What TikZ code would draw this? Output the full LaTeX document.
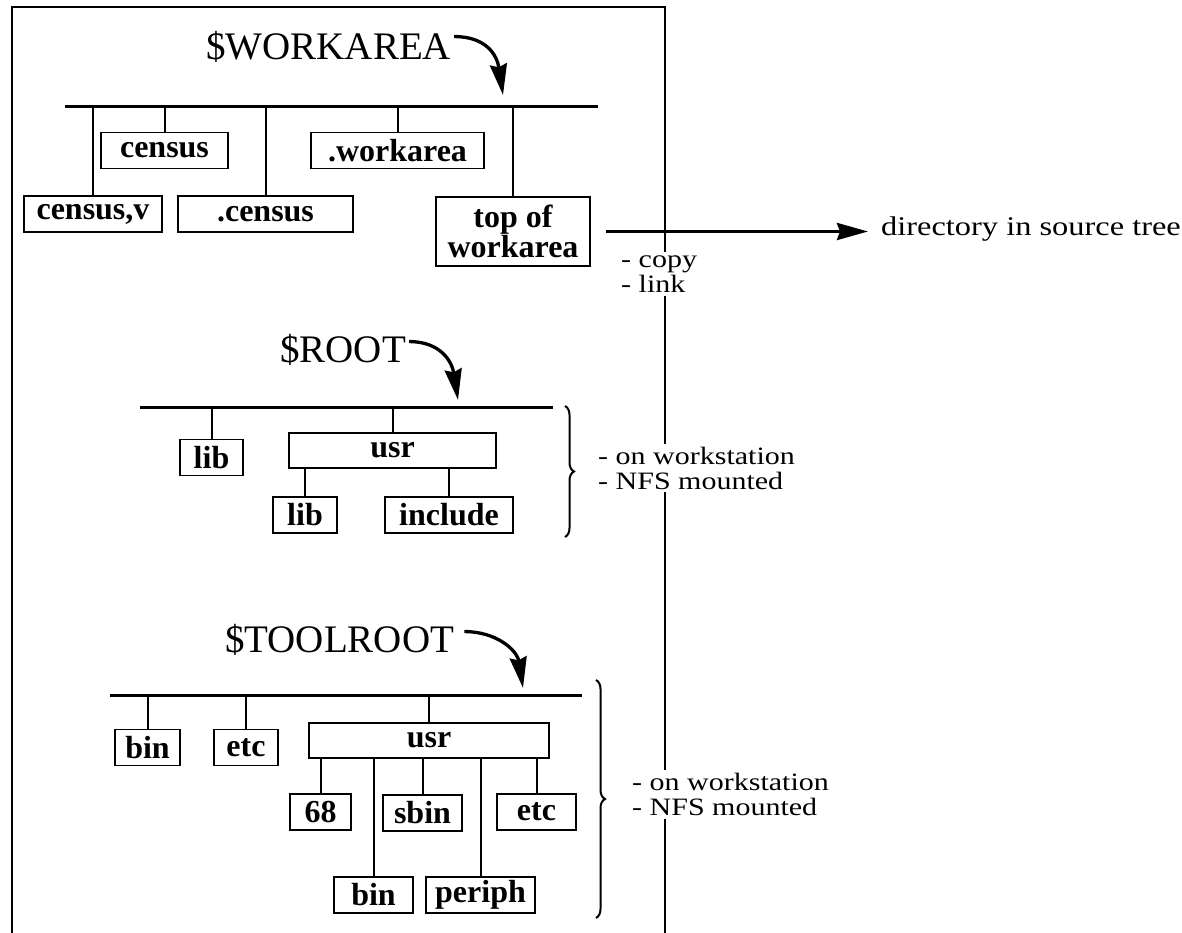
\documentclass[tikz,border=0pt]{standalone}
\usepackage{fontspec}
\setmainfont{Liberation Serif}
\newfontfamily\notefont[FakeStretch=1.2]{Liberation Serif}
\usetikzlibrary{arrows.meta,calc,decorations.pathreplacing}

\begin{document}
\begin{tikzpicture}[x=1pt,y=-1pt,
  dirbox/.style={draw,line width=1.8pt,inner sep=0pt,minimum height=36pt,font=\bfseries\fontsize{32}{29}\selectfont},
  title/.style={anchor=base west,inner sep=0pt,font=\fontsize{39}{40}\selectfont},
  note/.style={anchor=west,align=left,inner sep=3pt,font=\notefont\fontsize{25}{25}\selectfont},
  bus/.style={line width=3pt},
  drop/.style={line width=2pt},
  frame/.style={line width=2.5pt},
  curvearrow/.style={line width=3.3pt,-{Stealth[length=31pt,width=17pt,inset=3pt]}},
  grp/.style={line width=2pt,decorate,decoration={brace,amplitude=9pt}}]
\useasboundingbox (0,0) rectangle (1182,933);

\node[title] (wtitle) at (206,60) {\$WORKAREA};
\coordinate (wbus) at (65,107);  \coordinate (wbusE) at (598,107);
\coordinate (wtip) at (503,95);
\draw[bus] (wbus) -- (wbusE);
\node[dirbox,minimum width=127pt] (wcen) at (164.5,150.5) {census};
\node[dirbox,minimum width=173pt] (wwork) at (397.5,150.5) {.workarea};
\node[dirbox,minimum width=138pt] (wcenv) at (93,214) {census,v};
\node[dirbox,minimum width=175pt] (wdcen) at (265.5,214) {.census};
\node[dirbox,align=center,minimum width=154pt,minimum height=69pt] (wtop) at (513,231.5) {top of\\workarea};
\draw[drop] (wcenv.north) -- (wcenv.north |- wbus);  \draw[drop] (wcen.north) -- (wcen.north |- wbus);
\draw[drop] (wdcen.north) -- (wdcen.north |- wbus);  \draw[drop] (wwork.north) -- (wwork.north |- wbus);
\draw[drop] (wtop.north) -- (wtop.north |- wbus);
\draw[curvearrow] ([shift={(3,5)}]wtitle.north east) .. controls +(32,0) and +(-6,-40) .. (wtip);

\node[note] (cpnote) at (618,274) {- copy\\- link};
\node[note,inner sep=0pt,font=\notefont\fontsize{27}{27}\selectfont] (dirnote) at (881,229) {directory in source tree};
\draw[curvearrow] ([xshift=15pt]wtop.east) -- ([xshift=-13pt]dirnote.west |- wtop.east);

\node[title] (rtitle) at (280,362) {\$ROOT};
\coordinate (rbus) at (140,407);  \coordinate (rbusE) at (553,407);
\coordinate (rtip) at (458,400);
\draw[bus] (rbus) -- (rbusE);
\node[dirbox,minimum width=63pt] (rlib) at (211.5,457.5) {lib};
\node[dirbox,minimum width=207pt,minimum height=35pt] (rusr) at (392.5,450.5) {usr};
\node[dirbox,minimum width=64pt] (rulib) at (305,515) {lib};
\node[dirbox,minimum width=128pt] (rinc) at (449,515) {include};
\draw[drop] (rlib.north) -- (rlib.north |- rbus);  \draw[drop] (rusr.north) -- (rusr.north |- rbus);
\draw[drop] (rulib.north) -- (rulib.north |- rusr.south);  \draw[drop] (rinc.north) -- (rinc.north |- rusr.south);
\draw[curvearrow] ([shift={(3,8)}]rtitle.north east) .. controls +(32,0) and +(-6,-38) .. (rtip);
\draw[grp] (565,406) -- (565,537);
\node[note] (rnote) at (595,468) {- on workstation\\- NFS mounted};

\node[title] (ttitle) at (225,652) {\$TOOLROOT};
\coordinate (tbus) at (110,695);  \coordinate (tbusE) at (582,695);
\coordinate (ttip) at (523,688);
\draw[bus] (tbus) -- (tbusE);
\node[dirbox,minimum width=65pt] (tbin) at (147.5,747.5) {bin};
\node[dirbox,minimum width=64pt] (tetc) at (246,747.5) {etc};
\node[dirbox,minimum width=240pt,minimum height=35pt] (tusr) at (429,740.5) {usr};
\node[dirbox,minimum width=61pt] (t68) at (320.5,812) {68};
\node[dirbox,minimum width=79pt] (tsbin) at (422.5,813) {sbin};
\node[dirbox,minimum width=79pt] (tuetc) at (536.5,812) {etc};
\node[dirbox,minimum width=79pt] (tubin) at (373.5,895) {bin};
\node[dirbox,minimum width=109pt] (tperiph) at (480.5,895) {periph};
\draw[drop] (tbin.north) -- (tbin.north |- tbus);  \draw[drop] (tetc.north) -- (tetc.north |- tbus);
\draw[drop] (tusr.north) -- (tusr.north |- tbus);
\draw[drop] (t68.north) -- (t68.north |- tusr.south);  \draw[drop] (tsbin.north) -- (tsbin.north |- tusr.south);
\draw[drop] (tuetc.north) -- (tuetc.north |- tusr.south);  \draw[drop] (tubin.north) -- (tubin.north |- tusr.south);
\draw[drop] (tperiph.north) -- (tperiph.north |- tusr.south);
\draw[curvearrow] ([shift={(10,8)}]ttitle.north east) .. controls +(32,0) and +(-6,-38) .. (ttip);
\draw[grp] (596,680) -- (596,918);
\node[note] (tnote) at (629,794) {- on workstation\\- NFS mounted};

\coordinate (frtop) at (665,7);
\draw[frame] (12,933) -- (12,7) -- (frtop) -- (frtop |- cpnote.north);
\draw[frame] (frtop |- cpnote.south) -- (frtop |- rnote.north);
\draw[frame] (frtop |- rnote.south) -- (frtop |- tnote.north);
\draw[frame] (frtop |- tnote.south) -- (665,933);
\end{tikzpicture}
\end{document}
